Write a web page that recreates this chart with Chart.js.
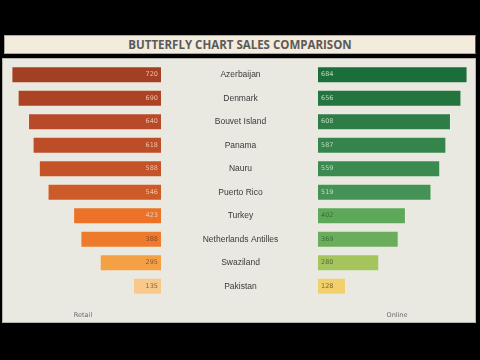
<!DOCTYPE html>
<html><head><meta charset="utf-8">
<script src="https://cdn.jsdelivr.net/npm/chart.js@4/dist/chart.umd.min.js"></script>
<style>
html,body{margin:0;padding:0;background:#000;width:480px;height:360px;overflow:hidden;}
#title{position:absolute;left:4px;top:35px;width:470px;height:17px;background:#f3ecdd;border:1px solid #a8a8a0;border-right-color:#555;
 font:bold 11.5px "Open Sans",sans-serif;color:#5a5a5a;text-align:center;line-height:17px;}
#panel{position:absolute;left:2px;top:58px;width:472px;height:263px;background:#e9e9e1;border:1px solid #b5b5ad;}
#cL{position:absolute;left:11px;top:63px;}
#cR{position:absolute;left:318px;top:63px;}
</style></head><body>
<div id="title">BUTTERFLY CHART SALES COMPARISON</div>
<div id="panel"></div>
<canvas id="cL" width="307" height="258" style="width:307px;height:258px"></canvas>
<canvas id="cR" width="150" height="258" style="width:150px;height:258px"></canvas>
<script>
// ---- data ----
const countries = ["Azerbaijan","Denmark","Bouvet Island","Panama","Nauru","Puerto Rico","Turkey","Netherlands Antilles","Swaziland","Pakistan"];
const retail = [720,690,640,618,588,546,423,388,295,135];
const online = [684,656,608,587,559,519,402,369,280,128];
const seriesNames = ["Retail","Online"];

// ---- styles ----
const retailColors = ["#a33f22","#ab4324","#b8492a","#bd4c29","#c4532a","#cd5b29","#eb7226","#ed7b2b","#f4a146","#f9c88b"];
const retailText   = ["#eebfa5","#eebfa5","#eebfa5","#eebfa5","#eebfa5","#f0c2a6","#f6caa8","#8a4a28","#8a5a30","#8a6040"];
const onlineText   = ["#bcd9c0","#bcd9c0","#bcd9c0","#bcd9c0","#bcd9c0","#c4ddc4","#3e6e38","#3e6e38","#5a6a3a","#7a6030"];
const onlineColors = ["#1b6e39","#23743f","#2e7d46","#34844b","#3b8a50","#449256","#5ea85a","#6aad5a","#a5c45b","#f3d06b"];

const valueFont = '6.5px "DejaVu Sans", sans-serif';
const catFont = '8.5px "Liberation Sans", sans-serif';
const titleFont = '6.5px "DejaVu Sans", sans-serif';

const valueLabels = (side) => ({
  id: 'vals' + side,
  afterDatasetsDraw(chart) {
    const ctx = chart.ctx;
    const meta = chart.getDatasetMeta(0);
    const data = chart.data.datasets[0].data;
    ctx.save();
    ctx.font = valueFont;
    ctx.textBaseline = 'middle';
    meta.data.forEach((bar, i) => {
      if (side === 'L') {
        ctx.textAlign = 'right';
        ctx.fillStyle = retailText[i];
        ctx.fillText(String(data[i]), bar.base - 3, bar.y);
      } else {
        ctx.textAlign = 'left';
        ctx.fillStyle = onlineText[i];
        ctx.fillText(String(data[i]), bar.base + 3, bar.y);
      }
    });
    ctx.restore();
  }
});

const axisTitle = (text, dx) => ({
  id: 'title' + text,
  afterDraw(chart) {
    const ctx = chart.ctx, a = chart.chartArea;
    ctx.save();
    ctx.font = titleFont;
    ctx.fillStyle = '#6a6a6a';
    ctx.textAlign = 'center';
    ctx.textBaseline = 'middle';
    ctx.fillText(text, (a.left + a.right) / 2 + dx, a.bottom + 17);
    ctx.restore();
  }
});

const catLabels = {
  id: 'cats',
  afterDraw(chart) {
    const ctx = chart.ctx;
    const ys = chart.scales.y;
    const cx = chart.chartArea.right + (chart.width - chart.chartArea.right) / 2 + 1;
    ctx.save();
    ctx.font = catFont;
    ctx.fillStyle = '#3a3a3a';
    ctx.textAlign = 'center';
    ctx.textBaseline = 'middle';
    countries.forEach((c, i) => ctx.fillText(c, cx, ys.getPixelForValue(i)));
    ctx.restore();
  }
};

new Chart(document.getElementById('cL'), {
  type: 'bar',
  data: { labels: countries, datasets: [{ label: seriesNames[0], data: retail,
    backgroundColor: retailColors, borderColor: 'rgba(255,235,215,0.35)', borderWidth: 1,
    categoryPercentage: 1, barPercentage: 0.72 }] },
  options: {
    indexAxis: 'y', responsive: false, animation: false,
    devicePixelRatio: 1,
    layout: { padding: {top: 0, bottom: 23, left: 0, right: 0} },
    plugins: { legend: {display: false}, tooltip: {enabled: false} },
    scales: {
      x: { reverse: true, min: 0, max: 722, display: false },
      y: { position: 'right', display: true,
           grid: {display: false}, border: {display: false}, ticks: {display: false},
           afterFit(s) { s.width = 157; } }
    }
  },
  plugins: [valueLabels('L'), catLabels, axisTitle(seriesNames[0], -3)]
});

new Chart(document.getElementById('cR'), {
  type: 'bar',
  data: { labels: countries, datasets: [{ label: seriesNames[1], data: online,
    backgroundColor: onlineColors, borderColor: 'rgba(230,245,225,0.35)', borderWidth: 1,
    categoryPercentage: 1, barPercentage: 0.72 }] },
  options: {
    indexAxis: 'y', responsive: false, animation: false,
    devicePixelRatio: 1,
    layout: { padding: {top: 0, bottom: 23, left: 0, right: 0} },
    plugins: { legend: {display: false}, tooltip: {enabled: false} },
    scales: {
      x: { min: 0, max: 686, display: false },
      y: { display: false }
    }
  },
  plugins: [valueLabels('R'), axisTitle(seriesNames[1], 4)]
});
</script>
</body></html>
